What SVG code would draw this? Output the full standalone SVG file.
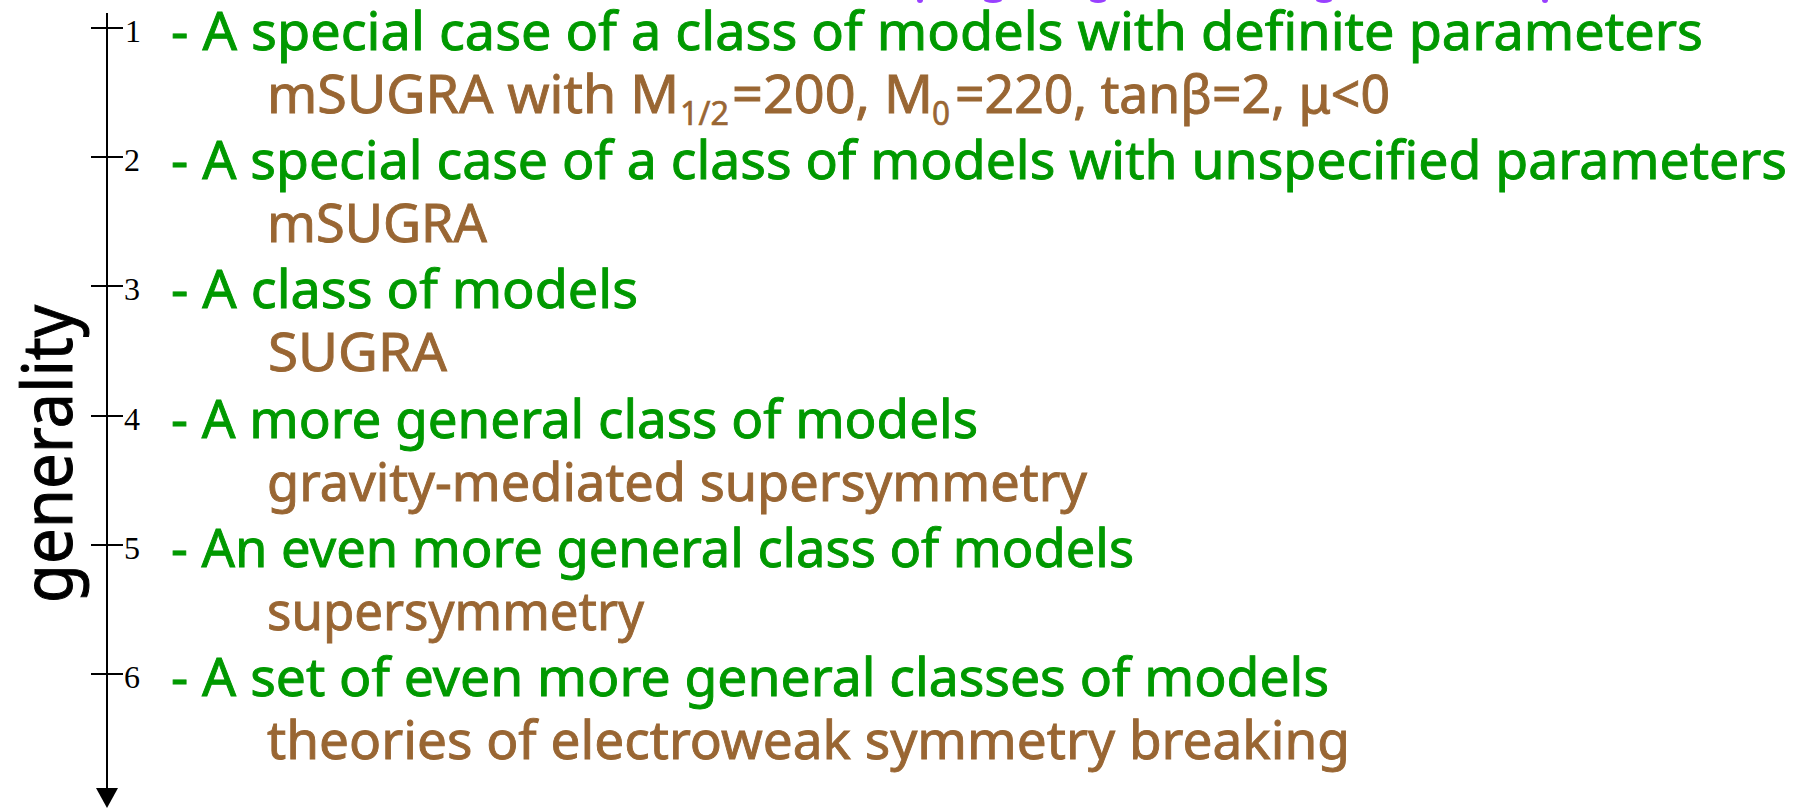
<svg xmlns="http://www.w3.org/2000/svg" width="1810" height="809" viewBox="0 0 1810 809">
  <style>
    .g { font-family: "Noto Sans", "DejaVu Sans", sans-serif; font-size: 52px; fill: #009900; stroke: #009900; stroke-width: 0.9px; }
    .b { font-family: "Noto Sans", "DejaVu Sans", sans-serif; font-size: 52px; fill: #996633; stroke: #996633; stroke-width: 0.9px; }
    .sub { font-family: "Noto Sans", "DejaVu Sans", sans-serif; font-size: 32px; fill: #996633; stroke: #996633; stroke-width: 0.6px; }
    .num { font-family: "Liberation Serif", "Times New Roman", serif; font-size: 32px; fill: #000; }
    .ax { font-family: "Noto Sans", "DejaVu Sans", sans-serif; font-size: 70px; fill: #000; stroke: #000; stroke-width: 1px; }
    .tick { stroke: #000; stroke-width: 2; }
    .purple { fill: #9940ff; }
  </style>
  <defs>
    <marker id="arrow" viewBox="0 0 20 22" refX="0" refY="11" markerWidth="20" markerHeight="22" markerUnits="userSpaceOnUse" orient="auto">
      <polygon points="0,0 20,11 0,22" fill="#000"/>
    </marker>
  </defs>
  <rect x="0" y="0" width="1810" height="809" fill="#fff"/>

  <g id="title-remnant">
    <ellipse class="purple" cx="920" cy="0" rx="3" ry="3"/>
    <ellipse class="purple" cx="993" cy="0" rx="9" ry="3"/>
    <ellipse class="purple" cx="1098" cy="0" rx="8" ry="3"/>
    <ellipse class="purple" cx="1324" cy="0" rx="8" ry="3"/>
    <ellipse class="purple" cx="1545" cy="0" rx="3" ry="3"/>
  </g>

  <g id="connectors">
    <line class="tick" x1="107" y1="13" x2="107" y2="788" marker-end="url(#arrow)"/>
  </g>

  <g id="axis-label">
    <text class="ax" transform="translate(72,603) rotate(-90)" textLength="298" lengthAdjust="spacingAndGlyphs">generality</text>
  </g>

  <g id="level1">
    <line class="tick" x1="91" y1="28" x2="123" y2="28"/>
    <text class="num" x="125" y="42">1</text>
    <text class="g" x="171" y="50" textLength="1532" lengthAdjust="spacingAndGlyphs">- A special case of a class of models with definite parameters</text>
    <text class="b" x="267" y="113" textLength="412" lengthAdjust="spacingAndGlyphs">mSUGRA with M</text>
    <text class="sub" x="680" y="125" textLength="49" lengthAdjust="spacingAndGlyphs">1/2</text>
    <text class="b" x="732" y="113" textLength="201" lengthAdjust="spacingAndGlyphs">=200, M</text>
    <text class="sub" x="932" y="125" textLength="18" lengthAdjust="spacingAndGlyphs">0</text>
    <text class="b" x="955" y="113" textLength="435" lengthAdjust="spacingAndGlyphs">=220, tanβ=2, μ&lt;0</text>
  </g>

  <g id="level2">
    <line class="tick" x1="91" y1="157" x2="123" y2="157"/>
    <text class="num" x="124" y="171">2</text>
    <text class="g" x="171" y="179" textLength="1616" lengthAdjust="spacingAndGlyphs">- A special case of a class of models with unspecified parameters</text>
    <text class="b" x="267" y="242" textLength="220" lengthAdjust="spacingAndGlyphs">mSUGRA</text>
  </g>

  <g id="level3">
    <line class="tick" x1="91" y1="286" x2="123" y2="286"/>
    <text class="num" x="124" y="300">3</text>
    <text class="g" x="171" y="308" textLength="467" lengthAdjust="spacingAndGlyphs">- A class of models</text>
    <text class="b" x="268" y="371" textLength="179" lengthAdjust="spacingAndGlyphs">SUGRA</text>
  </g>

  <g id="level4">
    <line class="tick" x1="91" y1="416" x2="123" y2="416"/>
    <text class="num" x="124" y="430">4</text>
    <text class="g" x="171" y="438" textLength="807" lengthAdjust="spacingAndGlyphs">- A more general class of models</text>
    <text class="b" x="267" y="501" textLength="820" lengthAdjust="spacingAndGlyphs">gravity-mediated supersymmetry</text>
  </g>

  <g id="level5">
    <line class="tick" x1="91" y1="545" x2="123" y2="545"/>
    <text class="num" x="124" y="559">5</text>
    <text class="g" x="171" y="567" textLength="963" lengthAdjust="spacingAndGlyphs">- An even more general class of models</text>
    <text class="b" x="267" y="630" textLength="377" lengthAdjust="spacingAndGlyphs">supersymmetry</text>
  </g>

  <g id="level6">
    <line class="tick" x1="91" y1="674" x2="123" y2="674"/>
    <text class="num" x="124" y="688">6</text>
    <text class="g" x="171" y="696" textLength="1158" lengthAdjust="spacingAndGlyphs">- A set of even more general classes of models</text>
    <text class="b" x="267" y="759" textLength="1083" lengthAdjust="spacingAndGlyphs">theories of electroweak symmetry breaking</text>
  </g>
</svg>
